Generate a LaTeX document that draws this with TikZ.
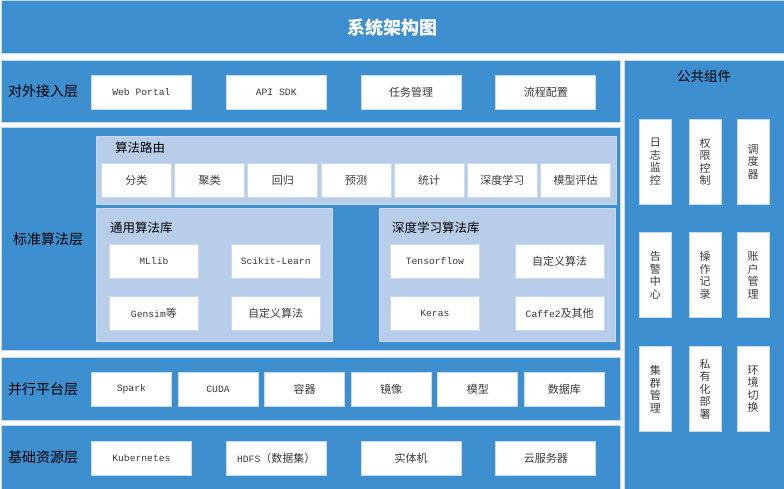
\documentclass[tikz,border=0pt]{standalone}
\usepackage{fontspec}
\setmainfont{Noto Sans CJK SC}
\newfontfamily\monofont{Liberation Mono}
\usetikzlibrary{positioning}

\definecolor{layerblue}{HTML}{3D8FD0}
\definecolor{groupblue}{HTML}{B8CDE9}
\definecolor{rimblue}{HTML}{C8DAF0}
\definecolor{itemtext}{HTML}{3A3A3A}

\newcommand{\en}[1]{{\monofont\fontsize{9.7}{12}\selectfont #1}}

\tikzset{
  layer/.style={draw=rimblue,line width=0.8pt,fill=layerblue,anchor=north west,inner sep=0},
  group/.style={draw=rimblue,line width=0.8pt,fill=groupblue,anchor=north west,inner sep=0},
  item/.style={draw=rimblue,line width=0.8pt,fill=white,inner sep=0,
    minimum width=#1,minimum height=34pt,text=itemtext,font=\fontsize{11}{13}\selectfont},
  item/.default=100pt,
  vitem/.style={item=32pt,minimum height=85pt,align=center,
    font=\fontsize{11}{12.5}\selectfont},
  layertitle/.style={anchor=west,inner sep=0,font=\fontsize{14}{16}\selectfont},
  grouptitle/.style={anchor=west,inner sep=0,font=\fontsize{12.5}{14}\selectfont}
}

\begin{document}
\begin{tikzpicture}[x=1pt,y=-1pt]
\useasboundingbox[fill=white] (0,0) rectangle (784,489);

% layers
\node[layer,minimum width=783pt,minimum height=53pt] (title) at (0.5,0.5) {};
\node[layer,minimum width=619pt,minimum height=62pt] (access) at (0.5,60) {};
\node[layer,minimum width=619pt,minimum height=223pt] (algo) at (0.5,127) {};
\node[layer,minimum width=619pt,minimum height=63pt] (parallel) at (0.5,357) {};
\node[layer,minimum width=619pt,minimum height=63.5pt] (base) at (0.5,425) {};
\node[layer,minimum width=159.5pt,minimum height=428.5pt] (common) at (624,60) {};

\node[text=white,font=\fontsize{18}{20}\selectfont\bfseries] (titletext) at (title) {系统架构图};

\node[layertitle] (accesslbl) at ([xshift=7.5pt]access.west) {对外接入层};
\node[layertitle] (algolbl) at ([xshift=12.5pt]algo.west) {标准算法层};
\node[layertitle] (parallellbl) at ([xshift=7.5pt]parallel.west) {并行平台层};
\node[layertitle] (baselbl) at ([xshift=7.5pt]base.west) {基础资源层};
\node[layertitle,anchor=center,font=\fontsize{13.5}{15}\selectfont] (commonlbl)
  at ([yshift=-16pt]common.north) {公共组件};

% access layer
\node[item,anchor=north west] (web) at (91,75) {\en{Web Portal}};
\node[item,right=34pt of web] (api) {\en{API SDK}};
\node[item,right=34pt of api] (task) {任务管理};
\node[item,right=34pt of task] (flow) {流程配置};

% algorithm layer
\node[group,minimum width=520pt,minimum height=68pt] (route) at (96,136) {};
\node[group,minimum width=236pt,minimum height=133pt] (general) at (96,208) {};
\node[group,minimum width=236pt,minimum height=133pt] (deep) at (379,208) {};

\node[grouptitle] (routelbl) at ([xshift=19pt,yshift=-12pt]route.north west) {算法路由};
\node[grouptitle] (generallbl) at ([xshift=14pt,yshift=-20pt]general.north west) {通用算法库};
\node[grouptitle] (deeplbl) at ([xshift=13pt,yshift=-20pt]deep.north west) {深度学习算法库};

\node[item=70pt,anchor=north west] (classify) at (101,163) {分类};
\node[item=70pt,right=2.4pt of classify] (cluster) {聚类};
\node[item=70pt,right=2.4pt of cluster] (regress) {回归};
\node[item=70pt,right=2.4pt of regress] (predict) {预测};
\node[item=70pt,right=2.4pt of predict] (stats) {统计};
\node[item=70pt,right=2.4pt of stats] (dl) {深度学习};
\node[item=70pt,right=2.4pt of dl] (evaluate) {模型评估};

\node[item=89pt,anchor=north west] (mllib) at (109,244) {\en{MLlib}};
\node[item=89pt,right=32pt of mllib] (sklearn) {\en{Scikit-Learn}};
\node[item=89pt,below=17.5pt of mllib] (gensim) {\en{Gensim}等};
\node[item=89pt,right=32pt of gensim] (gencustom) {自定义算法};

\node[item=89pt,anchor=north west] (tf) at (390,244) {\en{Tensorflow}};
\node[item=89pt,right=35pt of tf] (dlcustom) {自定义算法};
\node[item=89pt,below=17.5pt of tf] (keras) {\en{Keras}};
\node[item=89pt,right=35pt of keras] (caffe) {\en{Caffe2}及其他};

% parallel platform layer
\node[item=80pt,anchor=north west] (spark) at (91,372) {\en{Spark}};
\node[item=80pt,right=5.8pt of spark] (cuda) {\en{CUDA}};
\node[item=80pt,right=5.8pt of cuda] (container) {容器};
\node[item=80pt,right=5.8pt of container] (image) {镜像};
\node[item=80pt,right=5.8pt of image] (model) {模型};
\node[item=80pt,right=5.8pt of model] (database) {数据库};

% base resource layer
\node[item,anchor=north west] (k8s) at (91,441) {\en{Kubernetes}};
\node[item,right=34pt of k8s] (hdfs) {\en{HDFS}（数据集）};
\node[item,right=34pt of hdfs] (physical) {实体机};
\node[item,right=34pt of physical] (cloud) {云服务器};

% common components
\node[vitem,anchor=north west] (logmon) at (639,119) {日\\志\\监\\控};
\node[vitem,right=17pt of logmon] (auth) {权\\限\\控\\制};
\node[vitem,right=15pt of auth] (sched) {调\\度\\器};
\node[vitem,below=27.5pt of logmon] (alarm) {告\\警\\中\\心};
\node[vitem,right=17pt of alarm] (oplog) {操\\作\\记\\录};
\node[vitem,right=15pt of oplog] (account) {账\\户\\管\\理};
\node[vitem,below=28pt of alarm] (clustermgr) {集\\群\\管\\理};
\node[vitem,right=17pt of clustermgr] (private) {私\\有\\化\\部\\署};
\node[vitem,right=15pt of private] (envswitch) {环\\境\\切\\换};

\end{tikzpicture}
\end{document}
